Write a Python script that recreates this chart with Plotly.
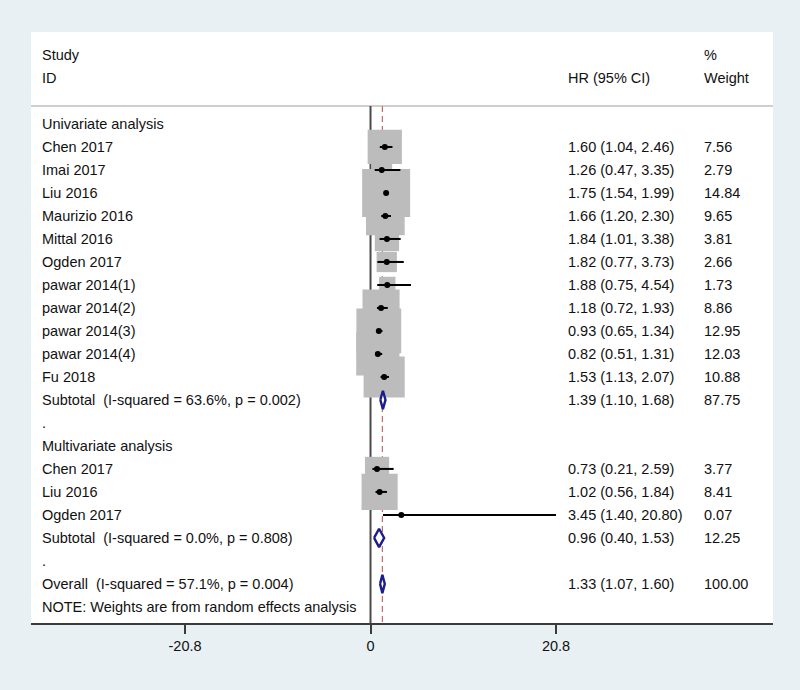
import plotly.graph_objects as go

# ---------------- data ----------------
study_labels = ["Chen 2017", "Imai 2017", "Liu 2016", "Maurizio 2016", "Mittal 2016",
                "Ogden 2017", "pawar 2014(1)", "pawar 2014(2)", "pawar 2014(3)",
                "pawar 2014(4)", "Fu 2018",
                "Chen 2017", "Liu 2016", "Ogden 2017"]
study_hr = [1.60, 1.26, 1.75, 1.66, 1.84, 1.82, 1.88, 1.18, 0.93, 0.82, 1.53,
            0.73, 1.02, 3.45]
study_lo = [1.04, 0.47, 1.54, 1.20, 1.01, 0.77, 0.75, 0.72, 0.65, 0.51, 1.13,
            0.21, 0.56, 1.40]
study_hi = [2.46, 3.35, 1.99, 2.30, 3.38, 3.73, 4.54, 1.93, 1.34, 1.31, 2.07,
            2.59, 1.84, 20.80]
study_weight = [7.56, 2.79, 14.84, 9.65, 3.81, 2.66, 1.73, 8.86, 12.95, 12.03, 10.88,
                3.77, 8.41, 0.07]
study_rows = [1, 2, 3, 4, 5, 6, 7, 8, 9, 10, 11, 15, 16, 17]

pooled_labels = ["Subtotal\u00a0 (I-squared = 63.6%, p = 0.002)",
                 "Subtotal\u00a0 (I-squared = 0.0%, p = 0.808)",
                 "Overall\u00a0 (I-squared = 57.1%, p = 0.004)"]
pooled_hr = [1.39, 0.96, 1.33]
pooled_lo = [1.10, 0.40, 1.07]
pooled_hi = [1.68, 1.53, 1.60]
pooled_weight = [87.75, 12.25, 100.00]
pooled_rows = [12, 18, 20]

group_labels = ["Univariate analysis", ".", "Multivariate analysis", "."]
group_rows = [0, 13, 14, 19]

note_text = "NOTE: Weights are from random effects analysis"
note_row = 21
overall_hr = 1.33

tick_vals = [-20.8, 0, 20.8]
tick_text = ["-20.8", "0", "20.8"]

# ---------------- styles ----------------
FONT = "Liberation Sans, Arial, sans-serif"
FS = 14.5
TXT = "#111111"
BOX_SCALE = 12.46      # px per sqrt(weight)
DIAMOND_H = 0.40       # half height of diamonds in row units
TOP_LINE_ROW = -0.78
X_RANGE = [-38.07, 45.13]
Y_RANGE = [21.70, -4.0]
HR_COL = 0.721
W_COL = 0.904
LEFT_COL = 0.012

fig = go.Figure()

# reference lines (below boxes)
fig.add_trace(go.Scatter(x=[0, 0], y=[TOP_LINE_ROW, Y_RANGE[0]], mode="lines",
                         line=dict(color="#4a4a4a", width=2), hoverinfo="skip",
                         showlegend=False))
fig.add_trace(go.Scatter(x=[overall_hr, overall_hr], y=[TOP_LINE_ROW, Y_RANGE[0]],
                         mode="lines", line=dict(color="#c46a6a", width=1.2, dash="6px,4px"),
                         hoverinfo="skip", showlegend=False))

# weight boxes
fig.add_trace(go.Scatter(
    x=study_hr, y=study_rows, mode="markers",
    marker=dict(symbol="square", color="#bcbcbc", opacity=1,
                size=[BOX_SCALE * w ** 0.5 for w in study_weight],
                line=dict(width=0)),
    opacity=1, hoverinfo="skip", showlegend=False))

# CI lines
for lo, hi, r in zip(study_lo, study_hi, study_rows):
    fig.add_trace(go.Scatter(x=[lo, hi], y=[r, r], mode="lines",
                             line=dict(color="black", width=2),
                             hoverinfo="skip", showlegend=False))

# point estimates
fig.add_trace(go.Scatter(x=study_hr, y=study_rows, mode="markers",
                         marker=dict(symbol="circle", color="black", size=6, opacity=1),
                         hoverinfo="skip", showlegend=False))

# pooled diamonds
for est, lo, hi, r in zip(pooled_hr, pooled_lo, pooled_hi, pooled_rows):
    fig.add_trace(go.Scatter(
        x=[lo, est, hi, est, lo],
        y=[r, r - DIAMOND_H, r, r + DIAMOND_H, r],
        mode="lines", line=dict(color="#1c1c8a", width=2.4),
        fill="toself", fillcolor="white",
        hoverinfo="skip", showlegend=False))

# header separator
fig.add_shape(type="line", xref="paper", yref="y", x0=0, x1=1,
              y0=TOP_LINE_ROW, y1=TOP_LINE_ROW,
              line=dict(color="#cfcfcf", width=2), layer="below")


def txt(x, y, s):
    fig.add_annotation(x=x, y=y, xref="paper", yref="y", text=s, showarrow=False,
                       xanchor="left", yanchor="middle",
                       font=dict(family=FONT, size=FS, color=TXT))


# headers
txt(LEFT_COL, -3, "Study")
txt(LEFT_COL, -2, "ID")
txt(HR_COL, -2, "HR (95% CI)")
txt(W_COL, -3, "%")
txt(W_COL, -2, "Weight")

for lab, r in zip(group_labels, group_rows):
    txt(LEFT_COL, r, lab)

for lab, est, lo, hi, w, r in zip(study_labels, study_hr, study_lo, study_hi,
                                  study_weight, study_rows):
    txt(LEFT_COL, r, lab)
    txt(HR_COL, r, f"{est:.2f} ({lo:.2f}, {hi:.2f})")
    txt(W_COL, r, f"{w:.2f}")

for lab, est, lo, hi, w, r in zip(pooled_labels, pooled_hr, pooled_lo, pooled_hi,
                                  pooled_weight, pooled_rows):
    txt(LEFT_COL, r, lab)
    txt(HR_COL, r, f"{est:.2f} ({lo:.2f}, {hi:.2f})")
    txt(W_COL, r, f"{w:.2f}")

txt(LEFT_COL, note_row, note_text)

fig.update_layout(
    width=800, height=690,
    margin=dict(l=31, r=27, t=32, b=67),
    paper_bgcolor="#e8f0f3",
    plot_bgcolor="white",
    xaxis=dict(range=X_RANGE, showgrid=False, zeroline=False,
               showline=True, linecolor="#3c3c3c", linewidth=2,
               ticks="outside", ticklen=9, tickwidth=1.5, tickcolor="#3c3c3c",
               tickvals=tick_vals, ticktext=tick_text,
               tickfont=dict(family=FONT, size=FS, color=TXT)),
    yaxis=dict(range=Y_RANGE, visible=False, showgrid=False, zeroline=False),
    showlegend=False,
)

fig.write_html(
    "out.html",
    config={"displayModeBar": False},
    post_script="document.body.style.margin='0';document.body.style.padding='0';"
                "document.body.style.overflow='hidden';",
)
